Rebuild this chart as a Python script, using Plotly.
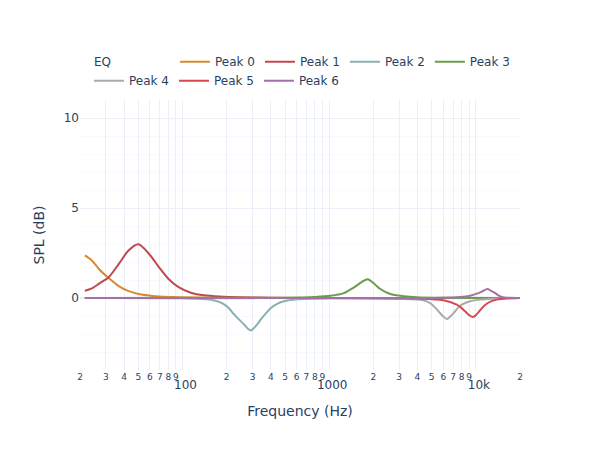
import plotly.graph_objects as go

# Data
freq_0 = [21.6, 24, 27, 31.5, 37, 43, 50, 60, 70, 95, 150, 300, 20000]
spl_0 = [2.37, 2.1, 1.6, 1.1, 0.65, 0.38, 0.22, 0.13, 0.08, 0.04, 0.01, 0.0, 0.0]

freq_1 = [21.6, 24.3, 27, 31.5, 36.8, 43, 50, 59, 69, 80, 94, 115, 140, 180, 250, 400, 1000, 20000]
spl_1 = [0.4, 0.55, 0.8, 1.17, 1.9, 2.65, 2.98, 2.46, 1.72, 1.07, 0.6, 0.28, 0.15, 0.08, 0.04, 0.02, 0.0, 0.0]

freq_2 = [21.6, 100, 156, 175, 192, 208, 224, 243, 262, 277, 291, 306, 323, 345, 370,
          400, 435, 491, 605, 1000, 20000]
spl_2 = [0.0, -0.02, -0.1, -0.2, -0.35, -0.58, -0.9, -1.2, -1.46, -1.68, -1.8, -1.68, -1.46, -1.15, -0.85,
         -0.55, -0.35, -0.18, -0.07, -0.02, 0.0]

freq_3 = [21.6, 500, 800, 1020, 1256, 1469, 1676, 1829, 2009, 2232, 2611, 3217, 3966, 6000, 20000]
spl_3 = [0.0, 0.02, 0.06, 0.12, 0.27, 0.58, 0.9, 1.04, 0.82, 0.5, 0.22, 0.1, 0.04, 0.01, 0.0]

freq_4 = [21.6, 1000, 3000, 4374, 4883, 5200, 5564, 5950, 6346, 6750, 7225, 7600, 8023, 9135,
          10690, 13160, 20000]
spl_4 = [0.0, -0.01, -0.05, -0.12, -0.28, -0.48, -0.74, -1.0, -1.17, -1.0, -0.74, -0.52, -0.37, -0.18,
         -0.09, -0.04, 0.0]

freq_5 = [21.6, 1000, 4000, 6000, 7413, 7900, 8447, 9000, 9535, 10100, 10690, 11250, 11860, 12800,
          13890, 17100, 20000]
spl_5 = [0.0, 0.0, -0.03, -0.12, -0.37, -0.52, -0.74, -0.95, -1.06, -0.92, -0.68, -0.48, -0.32, -0.17,
         -0.09, -0.02, 0.0]

freq_6 = [21.6, 3000, 6000, 7816, 9135, 10160, 11000, 11980, 12700, 13510, 14250, 15030, 17100, 20000]
spl_6 = [0.0, 0.0, 0.02, 0.06, 0.13, 0.24, 0.36, 0.5, 0.4, 0.28, 0.15, 0.06, 0.01, 0.0]

names = ["Peak 0", "Peak 1", "Peak 2", "Peak 3", "Peak 4", "Peak 5", "Peak 6"]
freqs = [freq_0, freq_1, freq_2, freq_3, freq_4, freq_5, freq_6]
spls = [spl_0, spl_1, spl_2, spl_3, spl_4, spl_5, spl_6]
colors = ["#d98a2e", "#c2474f", "#8aafb0", "#6a9b4c", "#aaaaaa", "#d9474f", "#a470a8"]

fig = go.Figure()
for i, (name, f, s, c) in enumerate(zip(names, freqs, spls, colors)):
    fig.add_trace(go.Scatter(
        x=f, y=s, mode="lines", name=name,
        legend="legend" if i < 4 else "legend2",  # two legend rows like the reference
        line=dict(color=c, width=2, shape="spline", smoothing=0.8)
    ))

fig.update_layout(
    template="plotly_white",
    width=600, height=450,
    font=dict(family="DejaVu Sans"),
    margin=dict(l=80, r=80, t=100, b=80, autoexpand=False),
    legend=dict(orientation="h", x=0.2159, xanchor="left",
                y=1.0882, yanchor="bottom"),
    legend2=dict(orientation="h", x=0.0205, xanchor="left",
                 y=1.0178, yanchor="bottom"),
    annotations=[dict(text="EQ", xref="paper", yref="paper", x=0.027, y=1.1407,
                      xanchor="left", yanchor="middle", showarrow=False,
                      font=dict(size=12))],
)
fig.update_xaxes(type="log", range=[1.30103, 4.30103], dtick="D1",
                 title_text="Frequency (Hz)")
fig.update_yaxes(range=[-4, 11], title_text="SPL (dB)", dtick=5,
                 minor=dict(dtick=1, showgrid=True))

fig.write_html("out.html", config={"displayModeBar": False},
               post_script="document.body.style.margin='0px';")
